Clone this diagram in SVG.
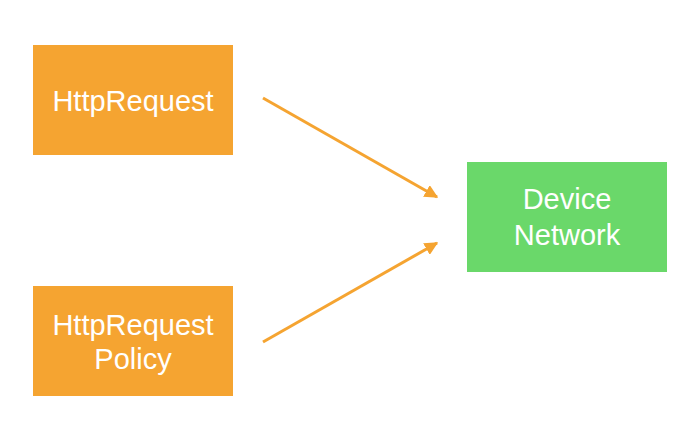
<svg xmlns="http://www.w3.org/2000/svg" width="697" height="440" viewBox="0 0 697 440">
<style>
.o{fill:#F5A431}
.g{fill:#6AD86A}
text{font-family:"Liberation Sans",Arial,sans-serif;font-size:29px;fill:#fff;text-anchor:middle}
.c{stroke:#F5A431;stroke-width:3;fill:none}
</style>
<defs>
<marker id="ah" viewBox="0 0 10 10" refX="9" refY="5" markerWidth="4.5" markerHeight="4.5" orient="auto" markerUnits="strokeWidth">
<path d="M0,0 L10,5 L0,10 z" fill="#F5A431"/>
</marker>
</defs>
<rect width="697" height="440" fill="#fff"/>
<g id="connectors">
<line class="c" x1="263" y1="98" x2="437" y2="197" marker-end="url(#ah)"/>
<line class="c" x1="263" y1="342" x2="437" y2="243" marker-end="url(#ah)"/>
</g>
<g id="httprequest">
<rect class="o" x="33" y="45" width="200" height="110"/>
<text x="133" y="111">HttpRequest</text>
</g>
<g id="httprequestpolicy">
<rect class="o" x="33" y="286" width="200" height="110"/>
<text x="133" y="335">HttpRequest</text>
<text x="133" y="369">Policy</text>
</g>
<g id="devicenetwork">
<rect class="g" x="467" y="162" width="200" height="110"/>
<text x="567" y="209">Device</text>
<text x="567" y="245">Network</text>
</g>
</svg>
